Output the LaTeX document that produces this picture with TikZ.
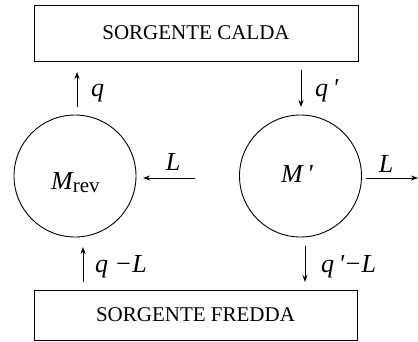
\documentclass[tikz,border=0pt]{standalone}
\usepackage{fontspec}
\setmainfont{Liberation Serif}
\usetikzlibrary{arrows.meta}
\begin{document}
\begin{tikzpicture}[x=1pt,y=-1pt,
  box/.style={draw,line width=1pt,minimum width=324pt,minimum height=56pt,inner sep=0pt,font=\fontsize{21}{25}\selectfont},
  machine/.style={draw,circle,line width=0.9pt,minimum size=122pt,inner sep=0pt},
  flow/.style={line width=0.9pt,-{Stealth[length=7pt,width=5pt]}},
  lab/.style={inner sep=0pt,font=\fontsize{26}{30}\selectfont\itshape}]
\useasboundingbox (0,0) rectangle (418,341);
\node[box] (hot) at (196,33) {SORGENTE CALDA};
\node[box,minimum height=50pt,minimum width=323pt] (cold) at (195.5,315) {SORGENTE FREDDA};
\node[machine] (mrev) at (75,176) {};
\node[machine] (mp) at (300.5,176) {};
\node[lab,anchor=base west] at (51,189) {M\raisebox{-3pt}{\upshape\fontsize{21}{24}\selectfont rev}};
\node[lab,anchor=base west] at (281,182) {M\,\textquotesingle};
% arrows
\coordinate (a1s) at (77,107); \coordinate (a1e) at (77,72);
\draw[flow] (a1s) -- (a1e);
\node[lab,anchor=base west] at (91,96) {q};
\coordinate (a2s) at (301,70); \coordinate (a2e) at (301,107);
\draw[flow] (a2s) -- (a2e);
\node[lab,anchor=base west] at (315,96) {q\,\textquotesingle};
\coordinate (a3s) at (195,178); \coordinate (a3e) at (143,178);
\draw[flow] (a3s) -- (a3e);
\node[lab,anchor=base] at (173,170) {L};
\coordinate (a4s) at (366,178); \coordinate (a4e) at (418,178);
\draw[flow] (a4s) -- (a4e);
\node[lab,anchor=base] at (386,172) {L};
\coordinate (a5s) at (83,282); \coordinate (a5e) at (83,247);
\draw[flow] (a5s) -- (a5e);
\node[lab,anchor=base west] at (95,272) {q −L};
\coordinate (a6s) at (305,246); \coordinate (a6e) at (305,282);
\draw[flow] (a6s) -- (a6e);
\node[lab,anchor=base west] at (321,272) {q\,\textquotesingle−L};
\end{tikzpicture}
\end{document}
